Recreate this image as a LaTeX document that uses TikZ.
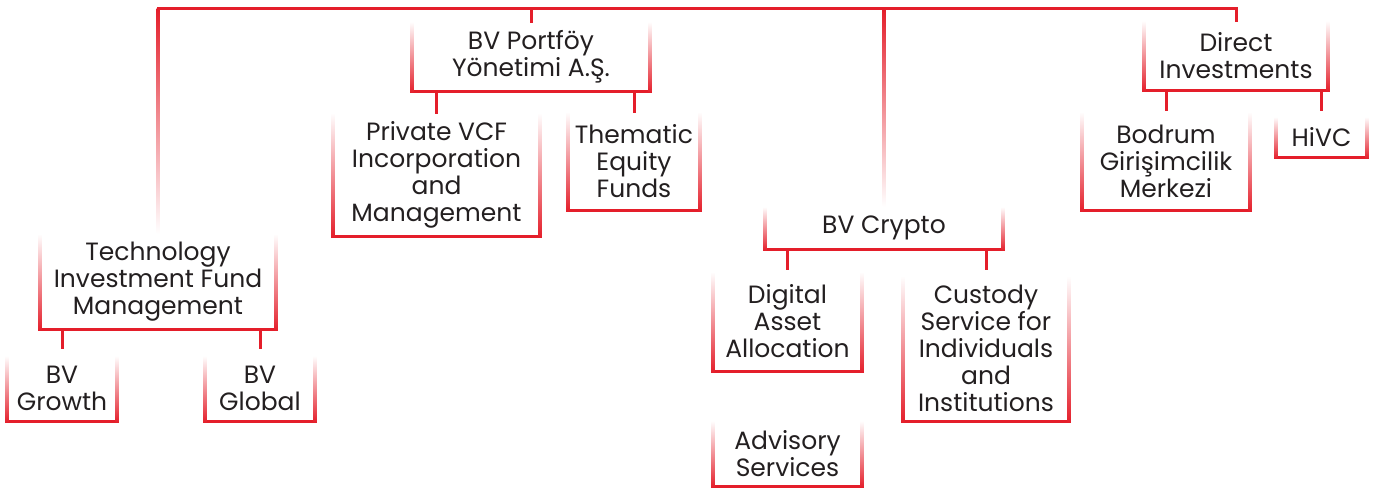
\documentclass[tikz,border=0pt]{standalone}
\usepackage{fontspec}
\setmainfont{Poppins}
\usetikzlibrary{calc,positioning}
\definecolor{bvred}{RGB}{228,30,42}
\definecolor{ink}{RGB}{35,31,32}
% open bracket under a unit: red base, sides fading upwards
\newcommand{\bracket}[1]{%
  \draw[wire] (#1.south west) -- (#1.south east);
  \shade[fadeup] ($(#1.south west)+(-1.5pt,-1.5pt)$) rectangle ($(#1.north west)+(1.5pt,0pt)$);
  \shade[fadeup] ($(#1.south east)+(-1.5pt,-1.5pt)$) rectangle ($(#1.north east)+(1.5pt,0pt)$);
}

\begin{document}
\begin{tikzpicture}[x=1pt,y=-1pt]
	\tikzstyle{unit} = [inner sep=0pt, align=center, text=ink, font=\fontsize{25}{27}\selectfont]
	\tikzstyle{wire} = [draw=bvred, line width=3pt, line cap=rect, line join=miter]
	\tikzstyle{fadeup} = [top color=white, middle color=bvred!35, bottom color=bvred]
	\tikzstyle{fadedown} = [top color=bvred, middle color=bvred, bottom color=white]
	\useasboundingbox (0,0) rectangle (1376,488);

	\coordinate (bar) at (533,8);
	\node [unit, minimum width=238, minimum height=69] (portf) at (531,56.5) {BV Portföy\\Yönetimi A.Ş.};
	\node [unit, minimum width=207, minimum height=123] (vcf) at (436.5,174.5) {Private VCF\\Incorporation\\and\\Management};
	\node [unit, minimum width=132, minimum height=98] (thematic) at (634,161) {Thematic\\Equity\\Funds};
	\node [unit, minimum width=236, minimum height=95] (tech) at (158,281.5) {Technology\\Investment Fund\\Management};
	\node [unit, minimum width=110, minimum height=65] (growth) at (62,388.5) {BV\\Growth};
	\node [unit, minimum width=110, minimum height=65] (global) at (260,388.5) {BV\\Global};
	\node [unit, minimum width=238, minimum height=42] (crypto) at (884,228) {BV Crypto};
	\node [unit, minimum width=149, minimum height=99] (digital) at (787.5,321.5) {Digital\\Asset\\Allocation};
	\node [unit, minimum width=166, minimum height=145] (custody) at (986,348.5) {Custody\\Service for\\Individuals\\and\\Institutions};
	\node [unit, minimum width=149, minimum height=65] (advisory) at (787.5,453.5) {Advisory\\Services};
	\node [unit, minimum width=184, minimum height=69] (direct) at (1236,55.5) {Direct\\Investments};
	\node [unit, minimum width=168, minimum height=98] (bodrum) at (1166,161) {Bodrum\\Girişimcilik\\Merkezi};
	\node [unit, minimum width=91, minimum height=40] (hivc) at (1321.5,137) {HiVC};

	\foreach \u in {portf,vcf,thematic,tech,growth,global,crypto,digital,custody,advisory,direct,bodrum,hivc}
		{\bracket{\u}}

	% top bar
	\draw [wire] (tech.north |- bar) -- (direct.north |- bar) -- (direct.north);
	\draw [wire] (portf.north |- bar) -- (portf.north);
	\shade [fadedown] ($(tech.north |- bar)+(-1.5pt,0pt)$) rectangle ($(tech.north)+(1.5pt,0pt)$);
	\shade [fadedown] ($(crypto.north |- bar)+(-1.5pt,0pt)$) rectangle ($(crypto.north)+(1.5pt,0pt)$);

	% ticks under each unit
	\draw [wire] (portf.south -| vcf.north) -- (vcf.north);
	\draw [wire] (portf.south -| thematic.north) -- (thematic.north);
	\draw [wire] (tech.south -| growth.north) -- ($(growth.north)+(0,8pt)$);
	\draw [wire] (tech.south -| global.north) -- ($(global.north)+(0,8pt)$);
	\draw [wire] (crypto.south -| digital.north) -- ($(digital.north)+(0,3pt)$);
	\draw [wire] (crypto.south -| custody.north) -- ($(custody.north)+(0,7pt)$);
	\draw [wire] (direct.south -| bodrum.north) -- ($(bodrum.north)+(0,2pt)$);
	\draw [wire] (direct.south -| hivc.north) -- ($(hivc.north)+(0,7pt)$);
\end{tikzpicture}
\end{document}
